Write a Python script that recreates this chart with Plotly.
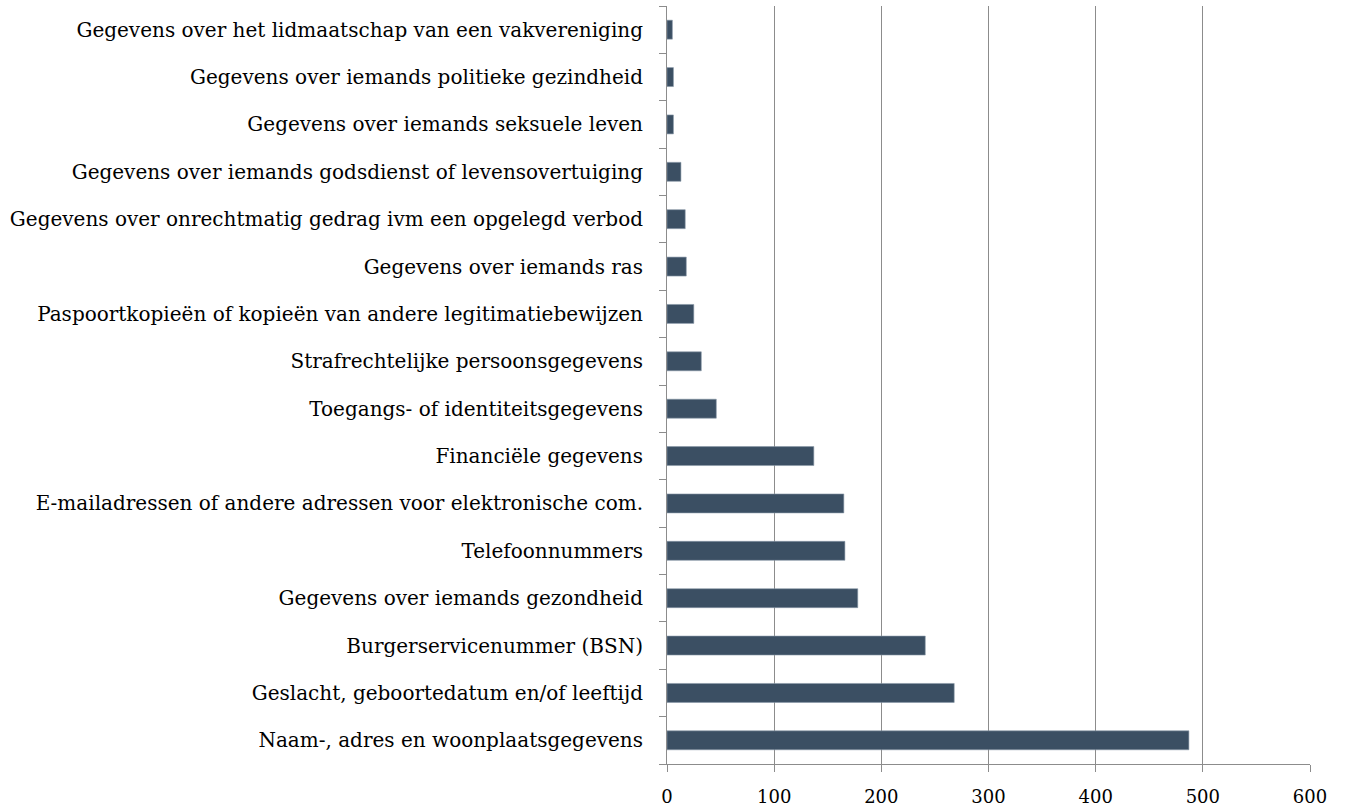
import plotly.graph_objects as go

categories = [
    "Naam-, adres en woonplaatsgegevens",
    "Geslacht, geboortedatum en/of leeftijd",
    "Burgerservicenummer (BSN)",
    "Gegevens over iemands gezondheid",
    "Telefoonnummers",
    "E-mailadressen of andere adressen voor elektronische com.",
    "Financiële gegevens",
    "Toegangs- of identiteitsgegevens",
    "Strafrechtelijke persoonsgegevens",
    "Paspoortkopieën of kopieën van andere legitimatiebewijzen",
    "Gegevens over iemands ras",
    "Gegevens over onrechtmatig gedrag ivm een opgelegd verbod",
    "Gegevens over iemands godsdienst of levensovertuiging",
    "Gegevens over iemands seksuele leven",
    "Gegevens over iemands politieke gezindheid",
    "Gegevens over het lidmaatschap van een vakvereniging",
]
values = [487, 268, 241, 178, 166, 165, 137, 46, 32, 25, 18, 17, 13, 6, 6, 5]
x_ticks = [0, 100, 200, 300, 400, 500, 600]

font_family = "DejaVu Serif, Liberation Serif, serif"

fig = go.Figure(
    go.Bar(
        x=values,
        y=categories,
        orientation="h",
        marker=dict(color="#3B4F63", line=dict(color="#8A98A8", width=0.6)),
    )
)

fig.update_layout(
    width=1346,
    height=809,
    paper_bgcolor="white",
    plot_bgcolor="white",
    margin=dict(l=667, r=36, t=6, b=45, autoexpand=False),
    bargap=0.6,
    showlegend=False,
    font=dict(family=font_family, size=20, color="black"),
)

fig.update_xaxes(
    range=[0, 600],
    tickvals=x_ticks,
    ticktext=[str(v) for v in x_ticks],
    showgrid=True,
    gridcolor="#8C8C8C",
    gridwidth=1,
    showline=True,
    linecolor="#8C8C8C",
    linewidth=1,
    ticks="outside",
    ticklen=7,
    tickcolor="#8C8C8C",
    zeroline=False,
    automargin=False,
    ticklabelstandoff=9,
    tickfont=dict(family=font_family, size=18, color="black"),
)

fig.update_yaxes(
    categoryorder="array",
    categoryarray=categories,
    showline=True,
    linecolor="#8C8C8C",
    linewidth=1,
    ticks="outside",
    tickson="boundaries",
    ticklen=7,
    tickcolor="#8C8C8C",
    showgrid=False,
    automargin=False,
    ticklabelstandoff=19,
    tickfont=dict(family=font_family, size=20, color="black"),
)

fig.write_html(
    "out.html",
    config={"displayModeBar": False},
    post_script="document.body.style.margin='0';document.body.style.overflow='hidden';",
)
